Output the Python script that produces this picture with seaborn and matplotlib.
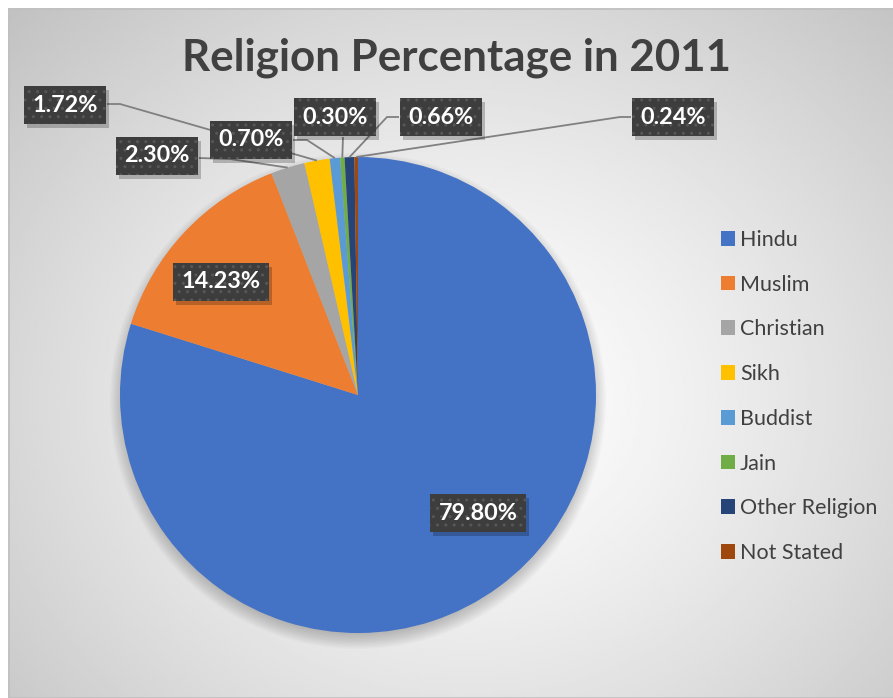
import numpy as np
import matplotlib
matplotlib.use("Agg")
import matplotlib.pyplot as plt
import seaborn as sns
from matplotlib.patches import Rectangle, Circle

# Census 2011 religion shares
religions = ["Hindu", "Muslim", "Christian", "Sikh", "Buddist", "Jain",
             "Other Religion", "Not Stated"]
shares = [79.80, 14.23, 2.30, 1.72, 0.70, 0.30, 0.66, 0.24]
share_labels = ["79.80%", "14.23%", "2.30%", "1.72%", "0.70%", "0.30%",
                "0.66%", "0.24%"]
slice_colors = ["#4472C4", "#ED7D31", "#A5A5A5", "#FFC000", "#5B9BD5",
                "#70AD47", "#264478", "#9E480E"]
title = "Religion Percentage in 2011"

W, H = 893, 698
sns.set_theme(style="white")
plt.rcParams["font.family"] = ["Lato", "DejaVu Sans"]
palette = sns.color_palette(slice_colors)

fig = plt.figure(figsize=(W / 100, H / 100), dpi=100)
fig.patch.set_facecolor("white")
ax = fig.add_axes([0, 0, 1, 1])


def px(x, y):
    """Convert top-left pixel coordinates into axes data coordinates."""
    return x, H - y


# chart area with a soft radial gradient
area_left, area_top = 8, 8
gx = np.linspace(area_left, W, 300)
gy = np.linspace(area_top, H, 240)
GX, GY = np.meshgrid(gx, gy)
dist = np.hypot(GX - 470, (GY - 400) * 1.15) / 640.0
shade = 1.0 - 0.24 * np.clip(dist, 0, 1.2) ** 1.3
ax.imshow(shade[::-1], cmap="gray", vmin=0, vmax=1, origin="lower",
          extent=(area_left, W, 0, H - area_top), aspect="auto", zorder=0,
          interpolation="bilinear")
ax.add_patch(Rectangle((area_left + 0.5, 0), W, H - area_top - 0.5,
                       fill=False, edgecolor="#c0c0c0", lw=1.2, zorder=1))

# pie geometry
cx, cy = px(358, 395)
radius = 238

# soft drop shadow below the pie
for k in range(14):
    ax.add_patch(Circle((cx, cy - 6), radius + 10 - k * 1.4, color="black",
                        alpha=0.018, lw=0, zorder=2))

wedges, _ = ax.pie(shares, colors=palette, startangle=90, counterclock=False,
                   center=(cx, cy), radius=radius,
                   wedgeprops=dict(linewidth=0, zorder=3))
for w in wedges:
    w.set_zorder(3)

ax.set_xlim(0, W)
ax.set_ylim(0, H)
ax.set_aspect("equal")
ax.axis("off")

# data-label boxes (pixel centres) and leader-line anchor paths
label_pos = [(478, 513), (221, 282), (157, 156), (65, 105), (251, 140),
             (335, 117), (441, 117), (673, 117)]
leader_paths = {
    2: [(199, 158), (230, 159)],
    3: [(107, 104), (120, 104)],
    4: [(293, 140), (307, 140)],
    5: [(343, 137)],
    6: [(399, 117), (387, 117)],
    7: [(631, 117), (620, 117)],
}

for i, pts in leader_paths.items():
    w = wedges[i]
    mid = np.deg2rad((w.theta1 + w.theta2) / 2)
    ex, ey = cx + radius * np.cos(mid), cy + radius * np.sin(mid)
    xs = [px(*p)[0] for p in pts] + [ex]
    ys = [px(*p)[1] for p in pts] + [ey]
    ax.plot(xs, ys, color="#808080", lw=1.3, zorder=4, solid_capstyle="butt")

box_font = dict(fontsize=16.8, fontweight="bold", ha="center", va="center")
label_texts = []
for (bx, by), txt in zip(label_pos, share_labels):
    x, y = px(bx, by)
    t = ax.text(x, y, txt, color="white", zorder=6,
                bbox=dict(boxstyle="square,pad=0.36", fc="#3d3d3d",
                          ec="#575757", lw=0, hatch=".."), **box_font)
    label_texts.append(t)

# title
tx, ty = px(457, 58)
ax.text(tx, ty, title, fontsize=31.6, fontweight="bold", color="#404040",
        ha="center", va="center", zorder=6)

# legend
leg = ax.legend(wedges, religions, loc="upper left",
                bbox_to_anchor=px(710, 219), bbox_transform=ax.transData,
                frameon=False, fontsize=15.5, labelcolor="#404040",
                handlelength=0.68, handleheight=0.68, handletextpad=0.22,
                labelspacing=1.15, borderpad=0)

# drop shadows behind the label boxes
fig.canvas.draw()
inv = ax.transData.inverted()
for t in label_texts:
    bb = t.get_bbox_patch().get_window_extent()
    (x0, y0), (x1, y1) = inv.transform([(bb.x0, bb.y0), (bb.x1, bb.y1)])
    ax.add_patch(Rectangle((x0 + 3, y0 - 4), x1 - x0, y1 - y0, fc="black",
                           alpha=0.22, lw=0, zorder=5))

fig.savefig("out.png", dpi=100, facecolor="white")
